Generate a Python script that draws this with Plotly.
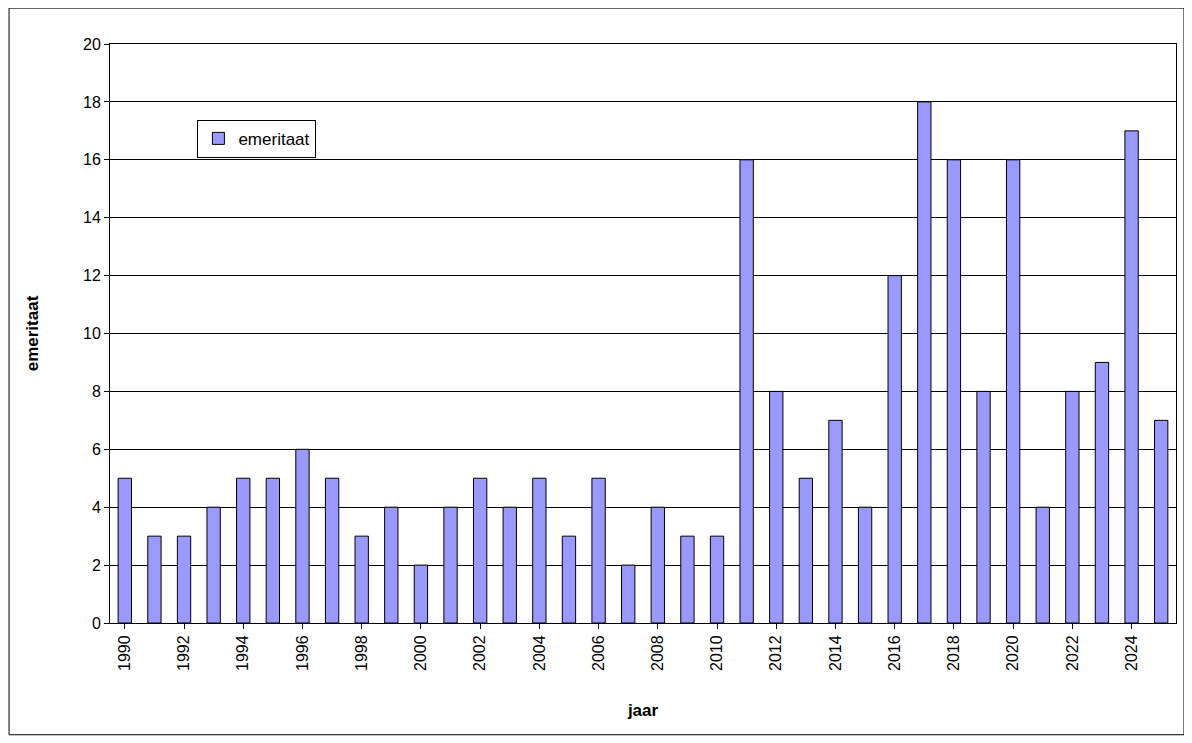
import plotly.graph_objects as go

years = list(range(1990, 2026))
values = [5,3,3,4,5,5,6,5,3,4,2,4,5,4,5,3,5,2,4,3,3,16,8,5,7,4,12,18,16,8,16,4,8,9,17,7]
tick_labels = [str(y) for y in years if y % 2 == 0]

fig = go.Figure(go.Bar(
    x=years, y=values, name="emeritaat",
    marker=dict(color="#9999ff", line=dict(color="black", width=1)),
))
fig.update_layout(
    width=1192, height=743,
    paper_bgcolor="white", plot_bgcolor="white",
    margin=dict(l=102, r=24, t=36, b=128),
    bargap=0.55,
    font=dict(family="Liberation Sans, Arial", size=16, color="black"),
    showlegend=True,
    legend=dict(x=0.082, y=0.869, xanchor="left", yanchor="top",
                bordercolor="black", borderwidth=1, bgcolor="white",
                font=dict(size=17)),
    xaxis=dict(title=dict(text="<b>jaar</b>", font=dict(size=17), standoff=34),
               tickmode="array", tickvals=[y for y in years if y % 2 == 0],
               ticktext=tick_labels, tickangle=-90,
               range=[1989.5, 2025.5], showline=True, linecolor="black",
               ticks="outside", tickcolor="black", mirror=True, showgrid=False),
    yaxis=dict(title=dict(text="<b>emeritaat</b>", font=dict(size=17), standoff=40),
               range=[0, 20], dtick=2, showgrid=True, gridcolor="black", gridwidth=1,
               showline=True, linecolor="black", ticks="outside", tickcolor="black",
               mirror=True, zeroline=False),
    shapes=[dict(type="rect", xref="paper", yref="paper", x0=-0.0947, x1=1.0075,
                 y0=-0.193, y1=1.062, line=dict(color="black", width=1))],
)
fig.write_html("out.html")
